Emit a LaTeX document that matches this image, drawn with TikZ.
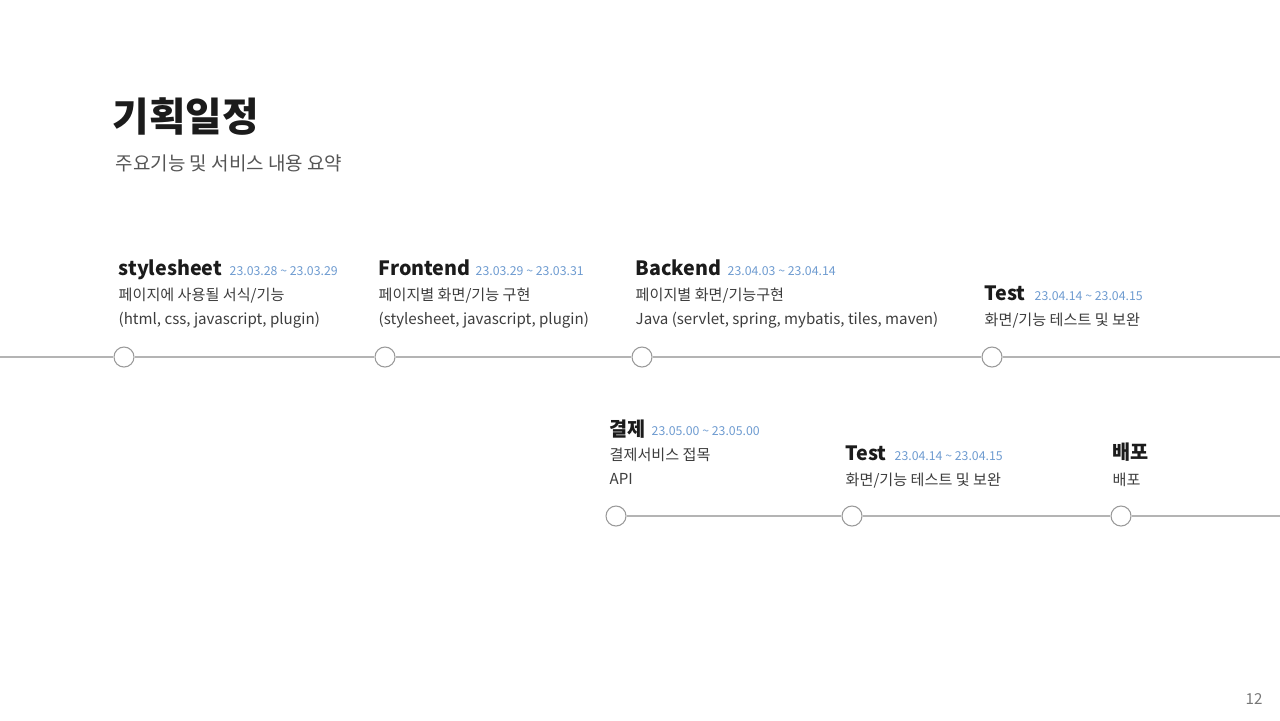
\documentclass[tikz,border=0pt]{standalone}
\usepackage{fontspec}
\setmainfont{Noto Sans CJK KR}
\usepackage{tikz}
\usetikzlibrary{positioning}

\definecolor{inkc}{HTML}{1B1B1B}
\definecolor{subc}{HTML}{555555}
\definecolor{datec}{HTML}{6E9BD0}
\definecolor{railc}{HTML}{B4B4B4}
\definecolor{dotc}{HTML}{9A9A9A}

\begin{document}
\begin{tikzpicture}[
  x=0.01cm, y=-0.01cm,
  title/.style={anchor=base west, inner sep=0, text=inkc, font=\fontsize{11.3pt}{12pt}\selectfont\bfseries},
  subtitle/.style={anchor=base west, inner sep=0, text=subc, font=\fontsize{5.4pt}{6pt}\selectfont},
  phase/.style={anchor=base west, inner sep=0, text=inkc, font=\fontsize{5.6pt}{6pt}\selectfont\bfseries},
  period/.style={anchor=base west, inner sep=0, text=datec, font=\fontsize{3.5pt}{4pt}\selectfont},
  detail/.style={anchor=base west, inner sep=0, text=inkc!85, font=\fontsize{4.3pt}{5pt}\selectfont},
  dot/.style={draw=dotc, line width=0.3pt, fill=white, circle, minimum size=0.2cm, inner sep=0},
  rail/.style={draw=railc, line width=0.3pt}
]
\useasboundingbox (0,0) rectangle (1280,720);

% Title
\node[title] (ttl) at (112,131) {기획일정};
\node[subtitle] (sub) at (115,170) {주요기능 및 서비스 내용 요약};

% Upper row
\node[phase] (h1) at (118,275) {stylesheet};
\node[period] (p1) at (229,275) {23.03.28 \textasciitilde{} 23.03.29};
\node[detail] (a1) at (118,300) {페이지에 사용될 서식/기능};
\node[detail] (b1) at (118,324) {(html, css, javascript, plugin)};

\node[phase] (h2) at (378,275) {Frontend};
\node[period] (p2) at (475,275) {23.03.29 \textasciitilde{} 23.03.31};
\node[detail] (a2) at (378,300) {페이지별 화면/기능 구현};
\node[detail] (b2) at (378,324) {(stylesheet, javascript, plugin)};

\node[phase] (h3) at (635,275) {Backend};
\node[period] (p3) at (727,275) {23.04.03 \textasciitilde{} 23.04.14};
\node[detail] (a3) at (635,300) {페이지별 화면/기능구현};
\node[detail] (b3) at (635,324) {Java (servlet, spring, mybatis, tiles, maven)};

\node[phase] (h4) at (984,300) {Test};
\node[period] (p4) at (1034,300) {23.04.14 \textasciitilde{} 23.04.15};
\node[detail] (a4) at (984,325) {화면/기능 테스트 및 보완};

% Upper timeline
\coordinate (r1s) at (0,357);
\coordinate (r1e) at (1280,357);
\node[dot] (c1) at (124,357) {};
\node[dot] (c2) at (385,357) {};
\node[dot] (c3) at (642,357) {};
\node[dot] (c4) at (992,357) {};
\draw[rail] (r1s) -- (c1) -- (c2) -- (c3) -- (c4) -- (r1e);

% Lower row
\node[phase] (h5) at (609,436) {결제};
\node[period] (p5) at (651,435) {23.05.00 \textasciitilde{} 23.05.00};
\node[detail] (a5) at (609,460) {결제서비스 접목};
\node[detail] (b5) at (609,484) {API};

\node[phase] (h6) at (845,460) {Test};
\node[period] (p6) at (894,460) {23.04.14 \textasciitilde{} 23.04.15};
\node[detail] (a6) at (845,485) {화면/기능 테스트 및 보완};

\node[phase] (h7) at (1112,459) {배포};
\node[detail] (a7) at (1112,485) {배포};

% Lower timeline
\coordinate (r2e) at (1280,516);
\node[dot] (c5) at (616,516) {};
\node[dot] (c6) at (852,516) {};
\node[dot] (c7) at (1121,516) {};
\draw[rail] (c5) -- (c6) -- (c7) -- (r2e);

% Page number
\node[subtitle, text=subc!80, font=\fontsize{4.3pt}{5pt}\selectfont] (pg) at (1245,704) {12};

\end{tikzpicture}
\end{document}
